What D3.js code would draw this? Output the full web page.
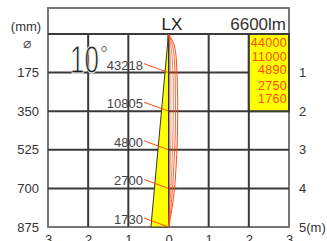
<!DOCTYPE html>
<html>
<head>
<meta charset="utf-8">
<script src="https://cdn.jsdelivr.net/npm/d3@7"></script>
<style>
  body { margin: 0; background: #fff; }
  text { font-family: "Liberation Sans", Arial, sans-serif; }
</style>
</head>
<body>
<div id="chart"></div>
<script>
// distances (m) and beam diameter (mm) at each distance
const distances = [1, 2, 3, 4, 5]
const diameters = [175, 350, 525, 700, 875]
// centre illuminance (lx) read at each distance
const centreLux = [43218, 10805, 4800, 2700, 1730]
// table in the yellow box
const boxLux = [44000, 11000, 4890, 2750, 1760]
const xTicks = [-3, -2, -1, 0, 1, 2, 3]
const beamAngle = '10'
const flux = '6600lm'

// light distribution curves, [depth m, offset m]
const curves = [
  [[0, 0], [0.25, 0.13], [0.5, 0.18], [1, 0.21], [2, 0.23], [3, 0.21], [4, 0.15], [4.5, 0.09], [5, 0]],
  [[0, 0], [0.3, 0.1], [0.7, 0.15], [1.5, 0.17], [2.5, 0.17], [3.5, 0.13], [4.5, 0.06], [5, 0]],
  [[0, 0], [0.4, 0.07], [1, 0.11], [2, 0.12], [3, 0.1], [4, 0.06], [5, 0]],
  [[0, 0], [0.5, 0.04], [1.5, 0.06], [2.5, 0.06], [3.5, 0.04], [5, 0]]
]

const width = 327, height = 241
const svg = d3.select('#chart').append('svg').attr('width', width).attr('height', height)

const x = d3.scaleLinear().domain([-3, 3]).range([48, 289])
const y = d3.scaleLinear().domain([0, 5]).range([34, 227])

const gridColor = '#3a3a3a', frameColor = '#777', labelColor = '#333', red = '#ff4a10'

// header frame
svg.append('rect').attr('x', x(-3)).attr('y', 8).attr('width', x(3) - x(-3)).attr('height', y(5) - 8)
  .attr('fill', 'none').attr('stroke', frameColor).attr('stroke-width', 2)

// grid
const grid = svg.append('g')
grid.selectAll('line.v').data(xTicks.slice(1, -1)).join('line').attr('class', 'v')
  .attr('x1', d => x(d)).attr('x2', d => x(d)).attr('y1', y(0)).attr('y2', y(5))
  .attr('stroke', gridColor).attr('stroke-width', 2)
grid.selectAll('line.h').data([0].concat(distances.slice(0, -1))).join('line').attr('class', 'h')
  .attr('x1', x(-3)).attr('x2', x(3)).attr('y1', d => y(d)).attr('y2', d => y(d))
  .attr('stroke', gridColor).attr('stroke-width', 2)

// yellow table box
svg.append('rect').attr('x', x(2)).attr('y', y(0)).attr('width', x(3) - x(2)).attr('height', y(2) - y(0))
  .attr('fill', '#ffff00').attr('stroke', gridColor).attr('stroke-width', 2)
const boxBase = [47, 61, 74, 90, 103]
svg.selectAll('text.box').data(boxLux).join('text').attr('class', 'box')
  .attr('x', x(3) - 2).attr('y', (d, i) => boxBase[i])
  .attr('text-anchor', 'end').attr('font-size', 12.5).attr('fill', red)
  .attr('letter-spacing', 0.3)
  .text(d => d)

// beam cone (left half)
const r5 = diameters[diameters.length - 1] / 2000
svg.append('path')
  .attr('d', d3.line().x(d => x(d[0])).y(d => y(d[1]))([[0, 0], [-r5, 5], [0, 5], [0, 0]]))
  .attr('fill', '#ffff00').attr('stroke', '#333').attr('stroke-width', 1)

// distribution curves
const curveLine = d3.line().x(d => x(d[1])).y(d => y(d[0])).curve(d3.curveCatmullRom)
svg.selectAll('path.curve').data(curves).join('path').attr('class', 'curve')
  .attr('d', curveLine).attr('fill', 'none').attr('stroke', red)
  .attr('stroke-opacity', (d, i) => 1 - i * 0.15).attr('stroke-width', 1)

// centre lux labels and leaders
svg.selectAll('line.lead').data(distances).join('line').attr('class', 'lead')
  .attr('x1', 144).attr('y1', d => y(d) - 9).attr('x2', x(0)).attr('y2', d => y(d))
  .attr('stroke', red).attr('stroke-width', 1)
svg.selectAll('text.lux').data(centreLux).join('text').attr('class', 'lux')
  .attr('x', 143).attr('y', (d, i) => y(distances[i]) - 3)
  .attr('text-anchor', 'end').attr('font-size', 13).attr('fill', '#444')
  .text(d => d)

// left axis (diameter)
const left = svg.append('g').attr('transform', `translate(${x(-3) - 6},0)`)
  .call(d3.axisLeft(y).tickValues(distances).tickSize(0).tickFormat((d, i) => diameters[i]))
left.select('.domain').remove()
left.selectAll('text').attr('font-size', 13).attr('fill', labelColor).attr('font-family', 'Liberation Sans, Arial, sans-serif')

// right axis (distance)
const right = svg.append('g').attr('transform', `translate(${x(3) + 7},0)`)
  .call(d3.axisRight(y).tickValues(distances).tickSize(0).tickFormat(d => d === 5 ? '5(m)' : d))
right.select('.domain').remove()
right.selectAll('text').attr('font-size', 13).attr('fill', labelColor).attr('font-family', 'Liberation Sans, Arial, sans-serif')

// bottom axis
const bottom = svg.append('g').attr('transform', `translate(0,${y(5) + 5})`)
  .call(d3.axisBottom(x).tickValues(xTicks).tickSize(0).tickFormat(d => Math.abs(d)))
bottom.select('.domain').remove()
bottom.selectAll('text').attr('font-size', 13).attr('fill', labelColor).attr('font-family', 'Liberation Sans, Arial, sans-serif')

// header texts
svg.append('text').attr('x', 26).attr('y', 31).attr('text-anchor', 'middle')
  .attr('font-size', 13).attr('fill', labelColor).text('(mm)')
svg.append('text').attr('x', 27).attr('y', 48).attr('text-anchor', 'middle')
  .attr('font-size', 14).attr('font-family', 'DejaVu Sans')
  .attr('fill', '#555').text('⌀')
svg.append('text').attr('x', 172).attr('y', 30).attr('text-anchor', 'middle')
  .attr('font-size', 17).attr('fill', '#222').text('LX')
svg.append('text').attr('x', 286).attr('y', 30).attr('text-anchor', 'end')
  .attr('font-size', 17).attr('fill', '#333').text(flux)

// beam angle, thinned by a white stroke over the fill
svg.append('text').attr('transform', 'translate(70,73) scale(1,1.5)')
  .attr('font-size', 26).attr('fill', '#222')
  .attr('stroke', '#fff').attr('stroke-width', 0.6).text(beamAngle)
svg.append('text').attr('x', 100).attr('y', 61)
  .attr('font-size', 20).attr('fill', '#222')
  .attr('stroke', '#fff').attr('stroke-width', 0.4).text('°')
</script>
</body>
</html>
